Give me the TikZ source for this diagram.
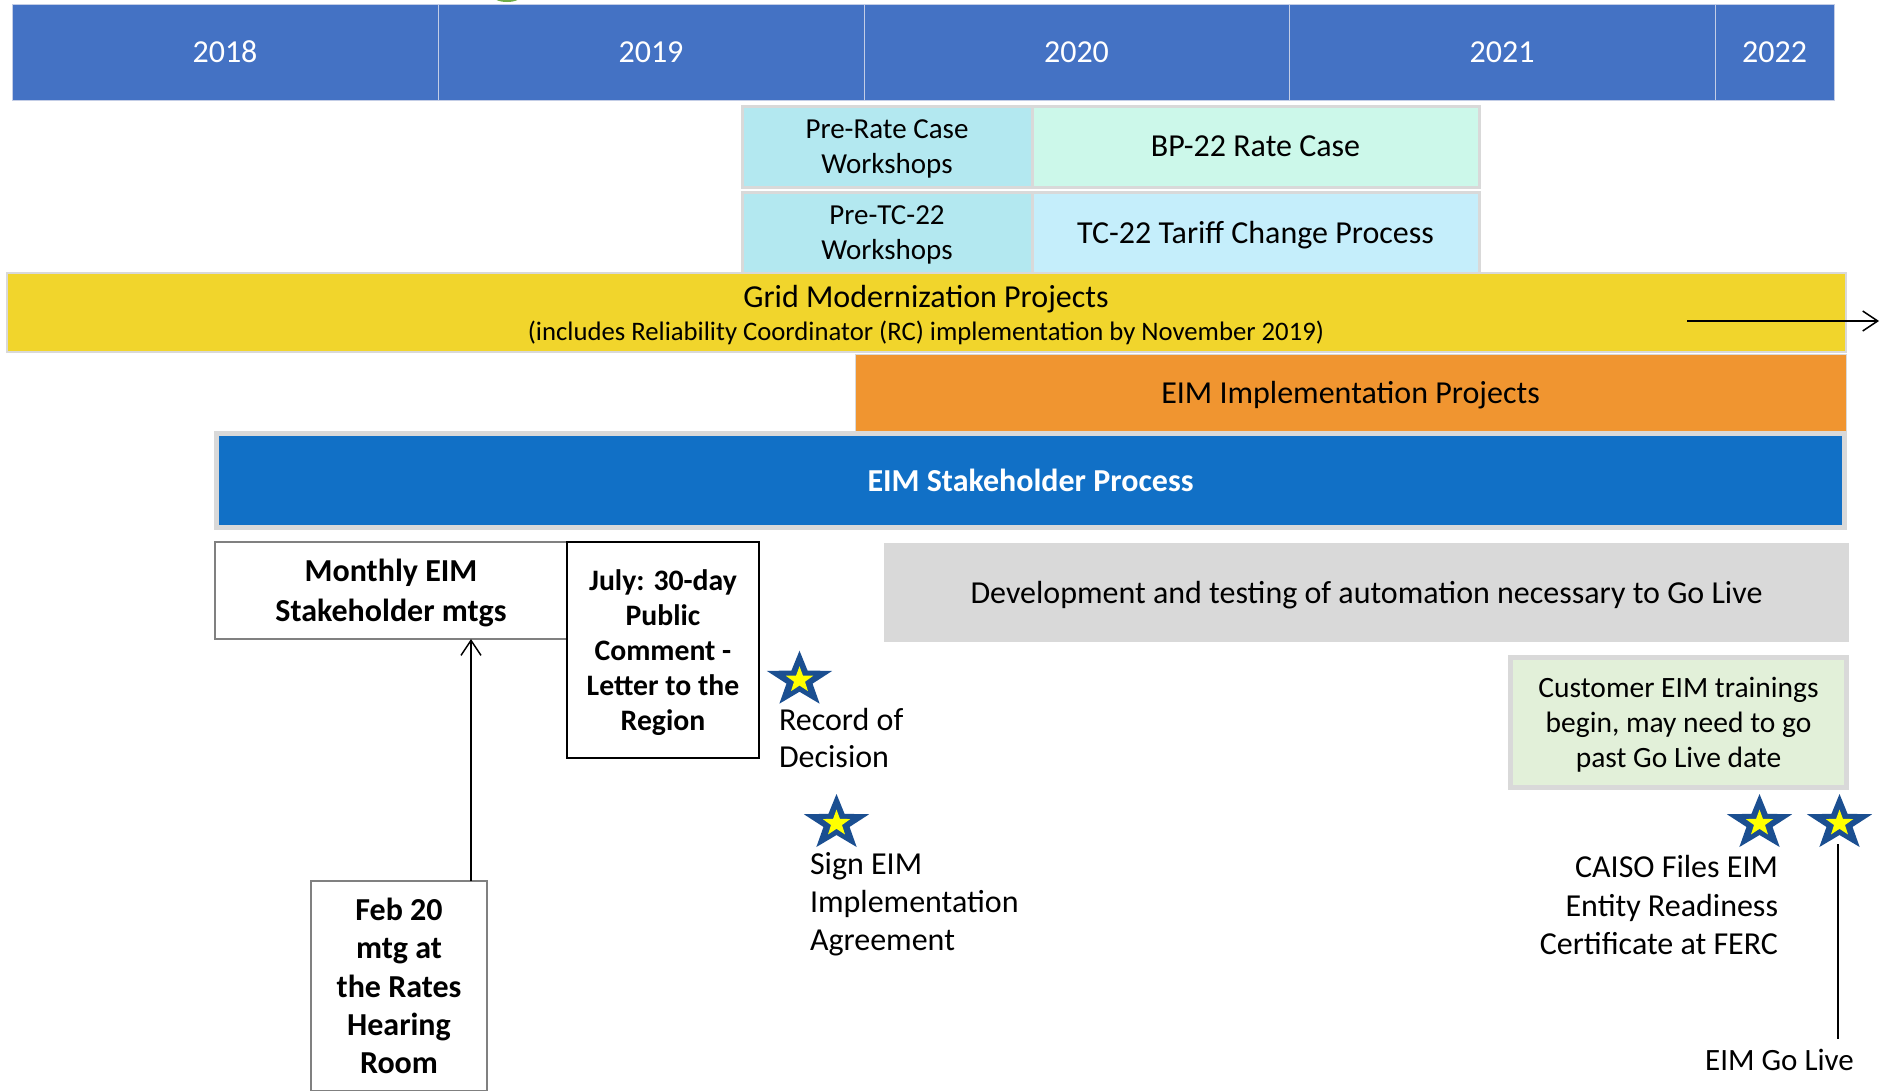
\documentclass[tikz,border=0pt]{standalone}
\usepackage{fontspec}
\setmainfont{Carlito}
\usetikzlibrary{arrows.meta,calc}
\definecolor{hdr}{HTML}{4472C4}
\definecolor{hdrline}{HTML}{C3CDE6}
\definecolor{boxline}{HTML}{D9D9D9}
\definecolor{precyan}{HTML}{B3E8F0}
\definecolor{mint}{HTML}{CCF8EA}
\definecolor{tclight}{HTML}{C5EEFB}
\definecolor{gridyel}{HTML}{F1D52C}
\definecolor{eimorange}{HTML}{F09530}
\definecolor{eimblue}{HTML}{1170C6}
\definecolor{devgray}{HTML}{D9D9D9}
\definecolor{custgreen}{HTML}{E2F0D9}
\definecolor{midgray}{HTML}{808080}
\definecolor{starblue}{HTML}{1B4F91}
\definecolor{staryel}{HTML}{FFFF00}
\definecolor{topgreen}{HTML}{70AD47}
\newcommand\bpastar[3]{%
  \pgfmathsetmacro\rout{#3}%
  \pgfmathsetmacro\rin{0.4*#3}%
  \fill[starblue,shift={(#1,#2)},xscale=1.17] (270:\rout) -- (306:\rin) -- (342:\rout) -- (18:\rin) -- (54:\rout) -- (90:\rin) -- (126:\rout) -- (162:\rin) -- (198:\rout) -- (234:\rin) -- cycle;
  \pgfmathsetmacro\rout{0.47*#3}%
  \pgfmathsetmacro\rin{0.4*0.47*#3}%
  \fill[staryel,shift={(#1,#2)},xscale=1.05] (270:\rout) -- (306:\rin) -- (342:\rout) -- (18:\rin) -- (54:\rout) -- (90:\rin) -- (126:\rout) -- (162:\rin) -- (198:\rout) -- (234:\rin) -- cycle;
}
\begin{document}
\begin{tikzpicture}[x=1pt,y=-1pt,
  box/.style={rectangle, inner sep=0pt, outer sep=0pt, align=center, anchor=north west, text depth=0pt},
  yr/.style={box, fill=hdr, draw=hdrline, line width=1pt, text=white, font=\fontsize{32}{36}\selectfont, minimum height=96pt, text depth=-2.5pt},
  prebox/.style={box, draw=boxline, line width=3pt, font=\fontsize{29}{35}\selectfont, minimum height=81pt},
  plain/.style={inner sep=0pt, outer sep=0pt},
  arr/.style={-{Straight Barb[length=15pt,width=20pt,line width=1.5pt]}, line width=1.5pt, black},
]
\useasboundingbox (0,0) rectangle (1892,1090);
\clip (0,0) rectangle (1892,1090);
\fill[white] (0,0) rectangle (1892,1090);
% small green shape at the top edge
\fill[topgreen] (507,-5) ellipse [x radius=15, y radius=7];

% year header
\node[yr, minimum width=426pt] (y2018) at (12,4) {2018};
\node[yr, minimum width=426pt] (y2019) at (438,4) {2019};
\node[yr, minimum width=425pt] (y2020) at (864,4) {2020};
\node[yr, minimum width=426pt] (y2021) at (1289,4) {2021};
\node[yr, minimum width=119pt] (y2022) at (1715,4) {2022};

% rate case / tariff rows
\node[prebox, fill=precyan, minimum width=290pt] (prerate) at (742,106) {Pre-Rate Case\\Workshops};
\node[prebox, fill=mint, minimum width=447pt, font=\fontsize{32}{36}\selectfont, text depth=-5pt] (bp22) at (1032,106) {BP-22 Rate Case};
\node[prebox, fill=precyan, minimum width=290pt] (pretc) at (742,192) {Pre-TC-22\\Workshops};
\node[prebox, fill=tclight, minimum width=447pt, font=\fontsize{32}{36}\selectfont] (tc22) at (1032,192) {TC-22 Tariff Change Process};

% grid modernization
\node[box, fill=gridyel, draw=boxline, line width=2pt, minimum width=1839pt, minimum height=79pt] (grid) at (7,273) {};
\node[plain, font=\fontsize{32}{36}\selectfont] (gridt) at (926,299) {Grid Modernization Projects};
\node[plain, font=\fontsize{26.7}{30}\selectfont] (grids) at (926,333) {(includes Reliability Coordinator (RC) implementation by November 2019)};
\coordinate (gmA) at (1687,321);
\coordinate (gmB) at (1879,321);
\draw[arr] (gmA) -- (gmB);

% EIM implementation
\node[box, fill=eimorange, draw=boxline, line width=1pt, minimum width=991pt, minimum height=77pt, font=\fontsize{32}{36}\selectfont] (impl) at (855,354) {EIM Implementation Projects};

% EIM stakeholder process
\node[box, fill=eimblue, draw=boxline, line width=5pt, minimum width=1628pt, minimum height=94pt, text=white, font=\fontsize{32}{36}\selectfont\bfseries] (stake) at (216.5,433.5) {EIM Stakeholder Process};

% lower boxes
\node[box, fill=white, draw=midgray, line width=1.5pt, minimum width=352pt, minimum height=97pt, font=\fontsize{32}{40}\selectfont\bfseries] (monthly) at (215,542) {Monthly EIM\\Stakeholder mtgs};
\node[box, fill=white, draw=black, line width=1.5pt, minimum width=192pt, minimum height=216pt, font=\fontsize{29.7}{35}\selectfont\bfseries] (july) at (567,542) {July: 30-day\\Public\\Comment -\\Letter to the\\Region};
\node[box, fill=devgray, minimum width=965pt, minimum height=99pt, font=\fontsize{32}{36}\selectfont] (dev) at (884,543) {Development and testing of automation necessary to Go Live};
\node[box, fill=custgreen, draw=boxline, line width=5pt, minimum width=336pt, minimum height=130pt, font=\fontsize{29.5}{35}\selectfont] (cust) at (1510.5,657.5) {Customer EIM trainings\\begin, may need to go\\past Go Live date};
\node[box, fill=white, draw=midgray, line width=1.5pt, minimum width=176pt, minimum height=210pt, font=\fontsize{32}{38.3}\selectfont\bfseries] (feb) at (311,881) {Feb 20\\mtg at\\the Rates\\Hearing\\Room};

% arrow from Feb meeting to monthly meetings
\coordinate (ax) at (471,0);
\draw[arr] (ax |- feb.north) -- (ax |- monthly.south);

% stars and milestone labels
\bpastar{799.5}{680}{29.3}
\bpastar{836.5}{823.3}{29.3}
\bpastar{1759.5}{823.3}{29.3}
\bpastar{1839.5}{823.3}{29.3}

\node[plain, anchor=north west, align=left, font=\fontsize{32}{37.5}\selectfont] (rod) at (779,708) {Record of\\Decision};
\node[plain, anchor=north west, align=left, font=\fontsize{32}{38}\selectfont] (sign) at (810,852) {Sign EIM\\Implementation\\Agreement};
\node[plain, anchor=north east, align=right, font=\fontsize{32}{38.5}\selectfont] (caiso) at (1778,855.5) {CAISO Files EIM\\Entity Readiness\\Certificate at FERC};
\node[plain, font=\fontsize{31}{36}\selectfont] (golive) at (1779.5,1060) {EIM Go Live};
\coordinate (gl) at (1838,844);
\draw[line width=1.5pt, shorten >=10pt] (gl) -- (gl |- golive.north);
\end{tikzpicture}
\end{document}
